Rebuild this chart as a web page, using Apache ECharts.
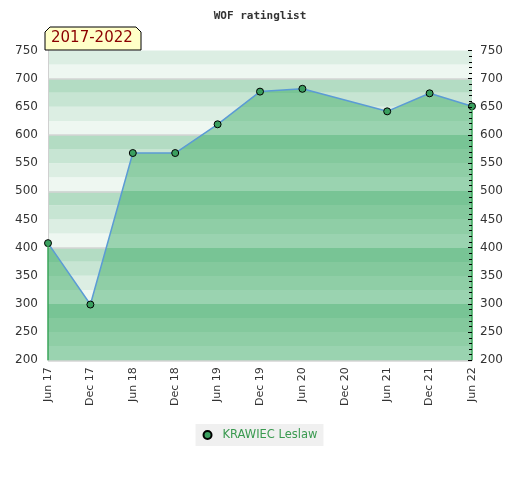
<!DOCTYPE html>
<html>
<head>
<meta charset="utf-8">
<script src="https://cdn.jsdelivr.net/npm/echarts@6/dist/echarts.min.js"></script>
<style>html,body{margin:0;padding:0;background:#fff}#c{width:520px;height:480px}</style>
</head>
<body>
<div id="c"></div>
<script>
var categories = ['Jun 17','Dec 17','Jun 18','Dec 18','Jun 19','Dec 19','Jun 20','Dec 20','Jun 21','Dec 21','Jun 22'];
var ratings = [408, 299, 568, 568, 619, 677, 682, null, 642, 674, 651];
var playerName = 'KRAWIEC Leslaw';
var periodLabel = '2017-2022';
var yMin = 200, yMax = 750;

var gridTop = 50.5, gridBottom = 119.7, H = 480;
var plotTop = gridTop, plotBottom = H - gridBottom;
// band colours by position within each 100 block (0-25 lightest ... 75-100 darkest)
var bgBands = ['#eef7f1', '#dceee3', '#c7e5d3', '#b3dcc3'];
var fillBands = ['#9ad3b0', '#8fcea6', '#84c99d', '#78c495'];

function bandIndex(v) { return Math.floor(((v % 100) + 100) % 100 / 25); }
var stops = [];
for (var v = yMax; v > yMin; v -= 25) {
  var idx = bandIndex(v - 25);
  var o1 = (yMax - v) / (yMax - yMin), o2 = (yMax - (v - 25)) / (yMax - yMin);
  stops.push({offset: o1, color: fillBands[idx]});
  stops.push({offset: o2, color: fillBands[idx]});
}
var bgColors = [];
for (var w = yMin; w < yMax; w += 25) { bgColors.push(bgBands[bandIndex(w)]); }

var firstIdx = 0, lastIdx = ratings.length - 1;

var chart = echarts.init(document.getElementById('c'));
chart.setOption({
  animation: false,
  title: {
    text: 'WOF ratinglist', left: 'center', top: 6,
    textStyle: {fontFamily: 'DejaVu Sans Mono', fontWeight: 'bold', fontSize: 11, color: '#333'}
  },
  grid: {left: 48, right: 48, top: gridTop, bottom: gridBottom},
  legend: {
    bottom: 34, left: 'center', backgroundColor: '#f0f0f0', padding: [5, 6, 5, 7],
    icon: 'circle', itemWidth: 8, itemHeight: 8, itemGap: 8,
    textStyle: {color: '#3a9a50', fontFamily: 'DejaVu Sans', fontSize: 11.5, padding: [0, 0, 0, 6]},
    data: [playerName]
  },
  xAxis: {
    type: 'category', data: categories, boundaryGap: false,
    axisLine: {lineStyle: {color: '#d0d0d0'}},
    axisTick: {show: false},
    axisLabel: {rotate: 90, interval: 0, color: '#333', fontFamily: 'DejaVu Sans', fontSize: 11, margin: 7},
    splitLine: {show: false}
  },
  yAxis: [
    {type: 'value', min: yMin, max: yMax, interval: 50, position: 'left',
     axisLine: {show: true, lineStyle: {color: '#d0d0d0'}}, axisTick: {show: false},
     axisLabel: {color: '#333', fontFamily: 'DejaVu Sans', fontSize: 12, margin: 10},
     splitLine: {show: false}},
    {type: 'value', min: yMin, max: yMax, interval: 50, position: 'right', z: 10,
     axisLine: {show: false}, axisTick: {show: true, inside: true, length: 4, lineStyle: {color: '#000'}},
     minorTick: {show: true, splitNumber: 5, length: 3, lineStyle: {color: '#000'}},
     axisLabel: {color: '#333', fontFamily: 'DejaVu Sans', fontSize: 12, margin: 8},
     splitLine: {show: false}},
    {type: 'value', min: yMin, max: yMax, interval: 25, show: true, z: 0,
     axisLine: {show: false}, axisTick: {show: false}, axisLabel: {show: false},
     splitLine: {show: false},
     splitArea: {show: true, areaStyle: {color: bgColors}}},
    {type: 'value', min: yMin, max: yMax, interval: 50, show: true, z: 1,
     axisLine: {show: false}, axisTick: {show: false}, axisLabel: {show: false},
     splitLine: {show: true, lineStyle: {color: ['#d4d4d4', 'transparent'], width: 1.5}}}
  ],
  graphic: [
    {type: 'polygon', z: 100,
     shape: {points: [[45, 50], [45, 32], [50, 27], [136, 27], [141, 32], [141, 50]]},
     style: {fill: '#ffffc8', stroke: '#000', lineWidth: 1}},
    {type: 'text', z: 101, left: 51, top: 31,
     style: {text: periodLabel, fill: '#8b0000', font: '15px "DejaVu Sans"'}}
  ],
  series: [{
    name: playerName, type: 'line', data: ratings, connectNulls: true,
    yAxisIndex: 0,
    symbol: 'circle', symbolSize: 7,
    itemStyle: {color: '#3a9f5f', borderColor: '#000', borderWidth: 1},
    lineStyle: {color: '#5b9bd5', width: 1.5},
    areaStyle: {
      opacity: 1,
      color: {type: 'linear', x: 0, y: plotTop, x2: 0, y2: plotBottom, colorStops: stops, global: true}
    },
    markLine: {
      silent: true, symbol: 'none', label: {show: false},
      lineStyle: {color: '#3aa55a', width: 1.5, type: 'solid'},
      data: [
        [{coord: [categories[firstIdx], yMin]}, {coord: [categories[firstIdx], ratings[firstIdx]]}],
        [{coord: [categories[lastIdx], yMin]}, {coord: [categories[lastIdx], ratings[lastIdx]]}]
      ]
    }
  }]
});
</script>
</body>
</html>
